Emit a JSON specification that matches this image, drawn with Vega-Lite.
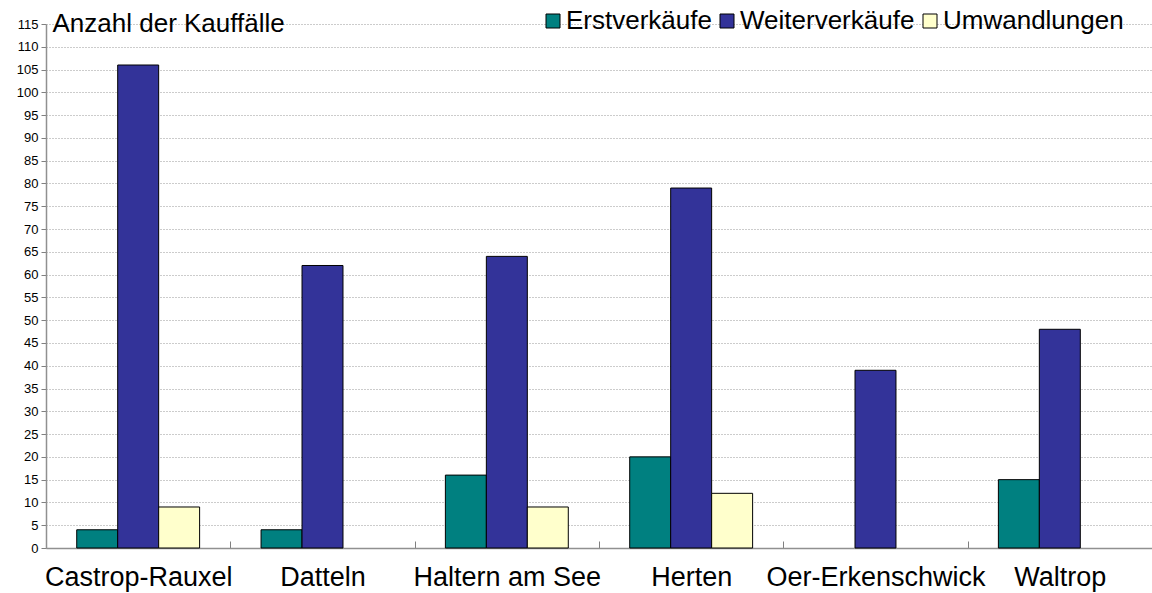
{
  "$schema": "https://vega.github.io/schema/vega-lite/v6.json",
  "width": 1106,
  "height": 524,
  "autosize": {"type": "none"},
  "padding": {"left": 46, "top": 24, "right": 0, "bottom": 45},
  "background": "white",
  "config": {
    "font": "Liberation Sans",
    "view": {"stroke": null},
    "axis": {"labelColor": "black", "labelFont": "Liberation Sans", "titleFont": "Liberation Sans"}
  },
  "data": {
    "values": [
      {"city": "Castrop-Rauxel", "series": "Erstverkäufe", "n": 4},
      {"city": "Castrop-Rauxel", "series": "Weiterverkäufe", "n": 106},
      {"city": "Castrop-Rauxel", "series": "Umwandlungen", "n": 9},
      {"city": "Datteln", "series": "Erstverkäufe", "n": 4},
      {"city": "Datteln", "series": "Weiterverkäufe", "n": 62},
      {"city": "Haltern am See", "series": "Erstverkäufe", "n": 16},
      {"city": "Haltern am See", "series": "Weiterverkäufe", "n": 64},
      {"city": "Haltern am See", "series": "Umwandlungen", "n": 9},
      {"city": "Herten", "series": "Erstverkäufe", "n": 20},
      {"city": "Herten", "series": "Weiterverkäufe", "n": 79},
      {"city": "Herten", "series": "Umwandlungen", "n": 12},
      {"city": "Oer-Erkenschwick", "series": "Weiterverkäufe", "n": 39},
      {"city": "Waltrop", "series": "Erstverkäufe", "n": 15},
      {"city": "Waltrop", "series": "Weiterverkäufe", "n": 48}
    ]
  },
  "mark": {"type": "bar", "stroke": "black", "strokeWidth": 1},
  "encoding": {
    "x": {
      "field": "city",
      "type": "nominal",
      "sort": ["Castrop-Rauxel", "Datteln", "Haltern am See", "Herten", "Oer-Erkenschwick", "Waltrop"],
      "scale": {"paddingInner": 0.3333, "paddingOuter": 0.1667},
      "axis": {
        "title": null,
        "labelAngle": 0,
        "labelFontSize": 27,
        "labelLimit": 0,
        "labelPadding": 23,
        "labelOffset": -92.17,
        "tickOffset": 92.17,
        "tickSize": -7,
        "tickColor": "#808080",
        "domainColor": "#909090",
        "domainWidth": 1.5
      }
    },
    "xOffset": {
      "field": "series",
      "type": "nominal",
      "sort": ["Erstverkäufe", "Weiterverkäufe", "Umwandlungen"],
      "scale": {"paddingInner": 0, "paddingOuter": 0}
    },
    "y": {
      "field": "n",
      "type": "quantitative",
      "scale": {"domain": [0, 115], "nice": false},
      "axis": {
        "values": [0,5,10,15,20,25,30,35,40,45,50,55,60,65,70,75,80,85,90,95,100,105,110,115],
        "labelFontSize": 13,
        "labelPadding": 3,
        "tickSize": 5,
        "tickColor": "#808080",
        "domainColor": "#909090",
        "domainWidth": 1.5,
        "gridColor": "#999999",
        "gridDash": [1, 2],
        "title": "Anzahl der Kauffälle",
        "titleAngle": 0,
        "titleAlign": "left",
        "titleBaseline": "alphabetic",
        "titleX": 6,
        "titleY": 7,
        "titleFontSize": 26,
        "titleFontWeight": "normal",
        "titleColor": "black"
      }
    },
    "color": {
      "field": "series",
      "type": "nominal",
      "sort": ["Erstverkäufe", "Weiterverkäufe", "Umwandlungen"],
      "scale": {
        "domain": ["Erstverkäufe", "Weiterverkäufe", "Umwandlungen"],
        "range": ["#008080", "#333399", "#FFFFCC"]
      },
      "legend": {
        "title": null,
        "orient": "none",
        "direction": "horizontal",
        "legendX": 494,
        "legendY": -16,
        "labelFontSize": 26,
        "labelLimit": 0,
        "labelColor": "black",
        "symbolType": "square",
        "symbolSize": 196,
        "symbolStrokeColor": "black",
        "symbolStrokeWidth": 1,
        "symbolOpacity": 1,
        "labelOffset": 0,
        "columnPadding": 2
      }
    }
  }
}
